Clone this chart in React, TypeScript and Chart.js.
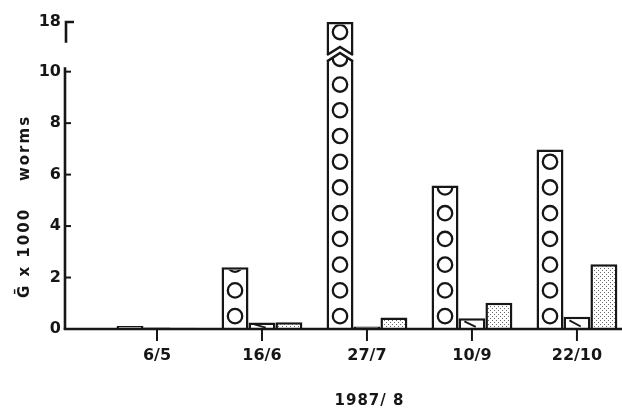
import React, { useEffect, useRef } from 'react';
import { Chart, registerables } from 'chart.js';

Chart.register(...registerables);

// ---------- data ----------
const categories = ['6/5', '16/6', '27/7', '10/9', '22/10'];
const categoryPositions = [1, 2, 3, 4, 5];
const circleSeries = [0.12, 2.4, 18, 5.58, 6.98];
const hatchedSeries = [0.06, 0.25, 0.1, 0.42, 0.48];
const dottedSeries = [0.05, 0.26, 0.45, 1.02, 2.52];
const yTickValues = [0, 2, 4, 6, 8, 10, 18];
const xTitle = '1987/ 8';
const yTitleLower = 'Ḡ x 1000';
const yTitleUpper = 'worms';

// ---------- broken axis mapping ----------
const BREAK_FROM = 10;
const AXIS_TOP_VALUE = 18;
const BREAK_SCALE = 1.93 / 8;
const toAxis = (v: number) => (v <= BREAK_FROM ? v : BREAK_FROM + (v - BREAK_FROM) * BREAK_SCALE);

const INK = '#161616';
const FONT = '"DejaVu Sans", "Liberation Sans", Arial, sans-serif';

function makeDots(): CanvasPattern | string {
  const c = document.createElement('canvas');
  c.width = 4;
  c.height = 4;
  const g = c.getContext('2d');
  if (!g) return '#ddd';
  g.fillStyle = '#ffffff';
  g.fillRect(0, 0, 4, 4);
  g.fillStyle = '#6a6a6a';
  g.fillRect(0, 0, 1, 1);
  g.fillRect(2, 2, 1, 1);
  return g.createPattern(c, 'repeat') || '#ddd';
}

const decor = {
  id: 'decor',
  afterDatasetsDraw(chart: any) {
    const ctx: CanvasRenderingContext2D = chart.ctx;
    const xs = chart.scales.x;
    const ys = chart.scales.y;
    const area = chart.chartArea;
    const bw = 2.5;

    // circles inside first series
    const meta0 = chart.getDatasetMeta(0);
    meta0.data.forEach((bar: any, i: number) => {
      const { x, y, base, width } = bar.getProps(['x', 'y', 'base', 'width'], true);
      const real = circleSeries[i];
      const left = x - width / 2;
      ctx.save();
      ctx.beginPath();
      ctx.rect(left + bw, y + bw, width - 2 * bw, base - y - bw);
      ctx.clip();
      ctx.strokeStyle = INK;
      ctx.lineWidth = 2.3;
      const lowLimit = Math.min(real, BREAK_FROM + 0.6);
      for (let k = 0; k < lowLimit; k++) {
        const cy = ys.getPixelForValue(k + 0.5);
        ctx.beginPath();
        ctx.arc(x, cy, 7.2, 0, Math.PI * 2);
        ctx.stroke();
      }
      if (real > BREAK_FROM) {
        const cy = ys.getPixelForValue(toAxis(real) - 0.39);
        ctx.beginPath();
        ctx.arc(x, cy, 7.2, 0, Math.PI * 2);
        ctx.stroke();
      }
      ctx.restore();

      if (real > BREAK_FROM) {
        const l = left - 1;
        const r = left + width + 1;
        const upApex = ys.getPixelForValue(10.96);
        const upEnd = ys.getPixelForValue(10.65);
        const loApex = ys.getPixelForValue(10.73);
        const loEnd = ys.getPixelForValue(10.4);
        ctx.save();
        ctx.fillStyle = '#ffffff';
        ctx.beginPath();
        ctx.moveTo(l, upEnd);
        ctx.lineTo(x, upApex);
        ctx.lineTo(r, upEnd);
        ctx.lineTo(r, loEnd);
        ctx.lineTo(x, loApex);
        ctx.lineTo(l, loEnd);
        ctx.closePath();
        ctx.fill();
        ctx.strokeStyle = INK;
        ctx.lineWidth = 2.4;
        ctx.lineJoin = 'miter';
        ctx.beginPath();
        ctx.moveTo(left + 0.5, upEnd);
        ctx.lineTo(x, upApex);
        ctx.lineTo(left + width - 0.5, upEnd);
        ctx.stroke();
        ctx.beginPath();
        ctx.moveTo(left + 0.5, loEnd);
        ctx.lineTo(x, loApex);
        ctx.lineTo(left + width - 0.5, loEnd);
        ctx.stroke();
        ctx.restore();
      }
    });

    // short hatch dash in second series
    const meta1 = chart.getDatasetMeta(1);
    meta1.data.forEach((bar: any) => {
      const { x, y, base, width } = bar.getProps(['x', 'y', 'base', 'width'], true);
      const h = base - y;
      if (h < 2) return;
      ctx.save();
      ctx.beginPath();
      ctx.rect(x - width / 2 + bw, y + 1.5, width - 2 * bw, h - 1.5);
      ctx.clip();
      ctx.strokeStyle = INK;
      ctx.lineWidth = 1.8;
      ctx.beginPath();
      ctx.moveTo(x - width * 0.28, y + h * 0.3);
      ctx.lineTo(x + width * 0.14, base - h * 0.2);
      ctx.stroke();
      ctx.restore();
    });

    // axes
    const y0 = ys.getPixelForValue(0);
    ctx.save();
    ctx.strokeStyle = INK;
    ctx.lineCap = 'butt';
    ctx.lineWidth = 2.6;
    ctx.beginPath();
    ctx.moveTo(area.left - 1.3, y0);
    ctx.lineTo(area.right + 2, y0);
    ctx.stroke();
    // lower y segment
    ctx.beginPath();
    ctx.moveTo(area.left, y0);
    ctx.lineTo(area.left, ys.getPixelForValue(10.17));
    ctx.stroke();
    // upper y segment with top tick
    const topPx = ys.getPixelForValue(toAxis(AXIS_TOP_VALUE));
    ctx.beginPath();
    ctx.moveTo(area.left + 1, ys.getPixelForValue(11.12));
    ctx.lineTo(area.left + 1, topPx);
    ctx.lineTo(area.left + 9, topPx);
    ctx.stroke();
    // y ticks (inside)
    ctx.lineWidth = 2;
    yTickValues.forEach((v) => {
      if (v > BREAK_FROM || v === 0) return;
      const py = ys.getPixelForValue(toAxis(v));
      ctx.beginPath();
      ctx.moveTo(area.left, py);
      ctx.lineTo(area.left + 6, py);
      ctx.stroke();
    });
    // x ticks (below)
    categoryPositions.forEach((p) => {
      const px = xs.getPixelForValue(p);
      ctx.beginPath();
      ctx.moveTo(px, y0);
      ctx.lineTo(px, y0 + 12);
      ctx.stroke();
    });

    // labels
    ctx.fillStyle = INK;
    ctx.font = `bold 16px ${FONT}`;
    ctx.textAlign = 'right';
    ctx.textBaseline = 'middle';
    yTickValues.forEach((v) => {
      const py = ys.getPixelForValue(toAxis(v));
      ctx.fillText(String(v), area.left - 4, py);
    });
    ctx.textAlign = 'center';
    categories.forEach((c, i) => {
      const px = xs.getPixelForValue(categoryPositions[i]);
      ctx.fillText(c, px, y0 + 27);
    });
    ctx.font = `bold 15px ${FONT}`;
    (ctx as any).letterSpacing = '1px';
    ctx.fillText(xTitle, (area.left + area.right) / 2 + 27, y0 + 72);

    // y title (rotated)
    (ctx as any).letterSpacing = '2px';
    ctx.font = `bold 15px ${FONT}`;
    ctx.translate(25, 0);
    ctx.rotate(-Math.PI / 2);
    ctx.fillText(yTitleUpper, -148, 0);
    ctx.fillText(yTitleLower, -253, 0);
    ctx.restore();
  },
};

export default function App() {
  const ref = useRef<HTMLCanvasElement | null>(null);

  useEffect(() => {
    document.body.style.margin = '0';
    document.body.style.background = '#ffffff';
    const canvas = ref.current;
    if (!canvas) return;
    const dots = makeDots();
    const chart = new Chart(canvas, {
      type: 'bar',
      data: {
        datasets: [
          {
            data: categoryPositions.map((x, i) => ({ x, y: toAxis(circleSeries[i]) })),
            backgroundColor: '#ffffff',
            borderColor: INK,
            borderWidth: 2.5,
          },
          {
            data: categoryPositions.map((x, i) => ({ x, y: toAxis(hatchedSeries[i]) })),
            backgroundColor: '#ffffff',
            borderColor: INK,
            borderWidth: 2.5,
          },
          {
            data: categoryPositions.map((x, i) => ({ x, y: toAxis(dottedSeries[i]) })),
            backgroundColor: dots as any,
            borderColor: INK,
            borderWidth: 2.5,
          },
        ],
      },
      options: {
        responsive: false,
        animation: false,
        devicePixelRatio: 1,
        layout: { padding: { left: 65, right: 2, top: 22, bottom: 86 } },
        datasets: { bar: { categoryPercentage: 0.77, barPercentage: 1 } },
        scales: {
          x: {
            type: 'linear',
            min: 0.124,
            max: 5.41,
            offset: false,
            display: false,
            afterBuildTicks: (scale: any) => {
              scale.ticks = categoryPositions.map((v) => ({ value: v }));
            },
          },
          y: { type: 'linear', min: 0, max: toAxis(AXIS_TOP_VALUE), display: false },
        },
        plugins: { legend: { display: false }, tooltip: { enabled: false } },
      } as any,
      plugins: [decor],
    });
    return () => chart.destroy();
  }, []);

  return <canvas ref={ref} width={622} height={415} style={{ display: 'block' }} />;
}
